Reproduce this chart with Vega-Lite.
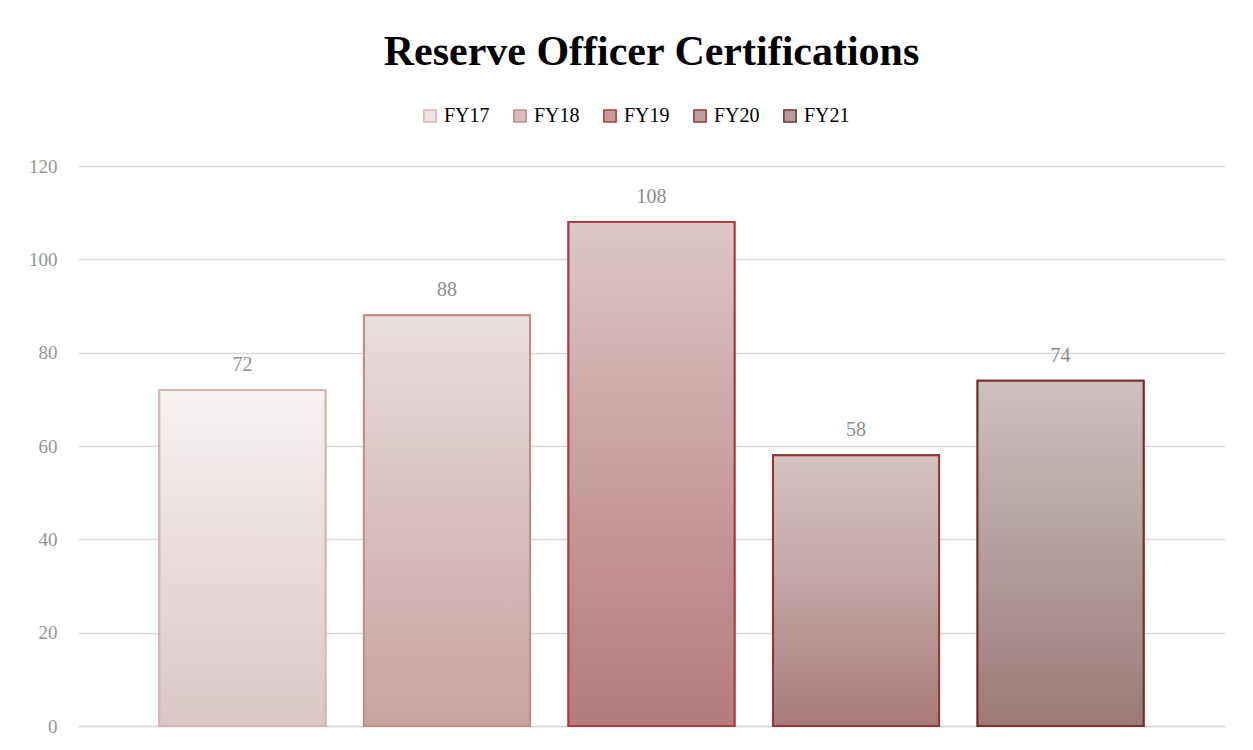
{
  "$schema": "https://vega.github.io/schema/vega-lite/v6.json",
  "width": 1147,
  "height": 560,
  "autosize": {"type": "none"},
  "padding": {"left": 78, "top": 166, "right": 28, "bottom": 24},
  "background": "white",
  "title": {
    "text": "Reserve Officer Certifications",
    "font": "Liberation Serif",
    "fontSize": 42,
    "fontWeight": "bold",
    "color": "#000000",
    "anchor": "middle",
    "frame": "group",
    "offset": 32
  },
  "data": {
    "values": [
      {"year": "FY17", "value": 72},
      {"year": "FY18", "value": 88},
      {"year": "FY19", "value": 108},
      {"year": "FY20", "value": 58},
      {"year": "FY21", "value": 74}
    ]
  },
  "config": {
    "view": {"stroke": null},
    "font": "Liberation Serif"
  },
  "encoding": {
    "x": {
      "field": "year",
      "type": "nominal",
      "sort": null,
      "scale": {"paddingInner": 0.188, "paddingOuter": 0.398},
      "axis": {"title": null, "labels": false, "ticks": false, "domain": true, "domainColor": "#D9D9D9", "domainWidth": 1.5}
    },
    "y": {
      "field": "value",
      "type": "quantitative",
      "scale": {"domain": [0, 120]},
      "axis": {
        "title": null,
        "values": [0, 20, 40, 60, 80, 100, 120],
        "grid": true,
        "gridColor": "#D9D9D9",
        "gridWidth": 1.5,
        "domain": false,
        "ticks": false,
        "labelFont": "Liberation Serif",
        "labelFontSize": 19,
        "labelColor": "#959595",
        "labelPadding": 21
      }
    }
  },
  "layer": [
    {
      "mark": {"type": "bar", "strokeWidth": 2},
      "encoding": {
        "fill": {
          "field": "year",
          "type": "nominal",
          "sort": null,
          "scale": {
            "domain": ["FY17", "FY18", "FY19", "FY20", "FY21"],
            "range": ["#EDE3E3", "#D9BDBD", "#C99C9C", "#BFA0A0", "#B39D9C"]
          },
          "legend": {
            "title": null,
            "orient": "none",
            "legendX": 342,
            "legendY": -60,
            "direction": "horizontal",
            "symbolType": "square",
            "symbolSize": 150,
            "symbolStrokeWidth": 1.5,
            "labelFont": "Liberation Serif",
            "labelFontSize": 20,
            "labelColor": "#000000",
            "columnPadding": 20,
            "labelOffset": 4
          }
        },
        "stroke": {
          "field": "year",
          "type": "nominal",
          "sort": null,
          "scale": {
            "domain": ["FY17", "FY18", "FY19", "FY20", "FY21"],
            "range": ["#D6B4B4", "#C38A8A", "#B03C3C", "#913636", "#7A2E2E"]
          },
          "legend": {
            "title": null,
            "orient": "none",
            "legendX": 342,
            "legendY": -60,
            "direction": "horizontal",
            "symbolType": "square",
            "symbolSize": 150,
            "symbolStrokeWidth": 1.5,
            "labelFont": "Liberation Serif",
            "labelFontSize": 20,
            "labelColor": "#000000",
            "columnPadding": 20,
            "labelOffset": 4
          }
        }
      }
    },
    {
      "mark": {"type": "bar", "strokeWidth": 2},
      "encoding": {
        "fill": {
          "condition": [
            {"test": "datum.year === 'FY17'", "value": {"gradient": "linear", "x1": 0, "y1": 0, "x2": 0, "y2": 1, "stops": [{"offset": 0, "color": "#F6F2F2"}, {"offset": 1, "color": "#DCC6C6"}]}},
            {"test": "datum.year === 'FY18'", "value": {"gradient": "linear", "x1": 0, "y1": 0, "x2": 0, "y2": 1, "stops": [{"offset": 0, "color": "#E8DEDE"}, {"offset": 0.6, "color": "#D6B8B8"}, {"offset": 1, "color": "#C9A3A3"}]}},
            {"test": "datum.year === 'FY19'", "value": {"gradient": "linear", "x1": 0, "y1": 0, "x2": 0, "y2": 1, "stops": [{"offset": 0, "color": "#DDC7C7"}, {"offset": 0.5, "color": "#C89E9E"}, {"offset": 1, "color": "#B47C7B"}]}},
            {"test": "datum.year === 'FY20'", "value": {"gradient": "linear", "x1": 0, "y1": 0, "x2": 0, "y2": 1, "stops": [{"offset": 0, "color": "#D4C1C0"}, {"offset": 0.4, "color": "#C6AAAA"}, {"offset": 1, "color": "#A77A7A"}]}},
            {"test": "datum.year === 'FY21'", "value": {"gradient": "linear", "x1": 0, "y1": 0, "x2": 0, "y2": 1, "stops": [{"offset": 0, "color": "#CEC0BF"}, {"offset": 0.5, "color": "#B39E9D"}, {"offset": 1, "color": "#9C7A79"}]}}
          ],
          "value": "#CCCCCC"
        },
        "stroke": {"field": "year", "type": "nominal", "sort": null}
      }
    },
    {
      "mark": {"type": "text", "dy": -25, "fontSize": 20, "font": "Liberation Serif", "color": "#8C8C8C"},
      "encoding": {
        "text": {"field": "value", "type": "quantitative"}
      }
    }
  ]
}
